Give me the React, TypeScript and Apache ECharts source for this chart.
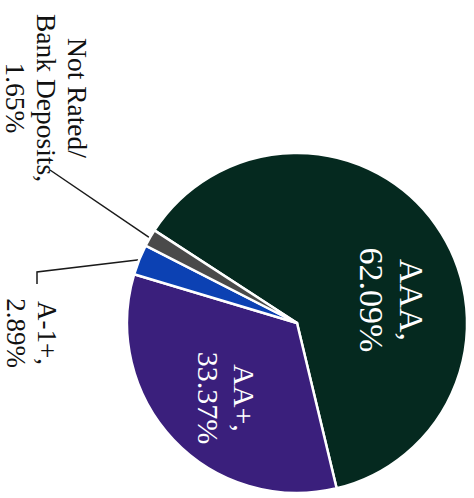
import React, { useEffect, useRef } from 'react';
import * as echarts from 'echarts';

const categories = ['AAA', 'AA+', 'A-1+', 'Not Rated/\nBank Deposits'];
const values = [62.09, 33.37, 2.89, 1.65];
const colors = ['#05291f', '#3a1f7c', '#0c41b3', '#4a4a4a'];

// layout constants (label anchors, font sizes)
const labelAnchors: number[][] = [[391, 300], [226, 398], [31, 333], [46, 98]];
const fontSizes = [34, 30, 27, 27.5];
const lineHeights = [40, 36, 31, 31];

export default function App() {
  const ref = useRef<HTMLDivElement>(null);
  useEffect(() => {
    const chart = echarts.init(ref.current!, null, { renderer: 'svg' });
    const data = categories.map((name, i) => ({
      name,
      value: values[i],
      itemStyle: { color: colors[i] },
      label: {
        position: i < 2 ? 'inside' : 'outside',
        color: i < 2 ? '#ffffff' : '#111111',
        fontSize: fontSizes[i],
        lineHeight: lineHeights[i],
      },
      labelLine: { show: i >= 2 },
    }));
    chart.setOption({
      animation: false,
      series: [
        {
          type: 'pie',
          center: [297, 323],
          radius: 170,
          startAngle: 147,
          clockwise: true,
          avoidLabelOverlap: false,
          itemStyle: { borderColor: '#ffffff', borderWidth: 2.5 },
          label: {
            show: true,
            rotate: -90,
            fontFamily: '"Liberation Serif", "DejaVu Serif", serif',
            formatter: (p: any) => `${p.name},\n${Number(p.value).toFixed(2)}%`,
          },
          labelLine: { show: true, lineStyle: { color: '#1a1a1a', width: 1.5 } },
          labelLayout: (params: any) => {
            const i = params.dataIndex;
            const [x, y] = labelAnchors[i];
            const res: any = { x, y, align: 'center', verticalAlign: 'middle' };
            const s = params.labelLinePoints && params.labelLinePoints[0];
            if (s && i === 2) res.labelLinePoints = [s, [37, 272], [37, 284]];
            if (s && i === 3) res.labelLinePoints = [s, [50, 170], [50, 170]];
            return res;
          },
          data,
        },
      ],
    });
    return () => chart.dispose();
  }, []);
  return (
    <div
      ref={ref}
      style={{ position: 'fixed', left: 0, top: 0, width: 474, height: 498, background: '#fff' }}
    />
  );
}
